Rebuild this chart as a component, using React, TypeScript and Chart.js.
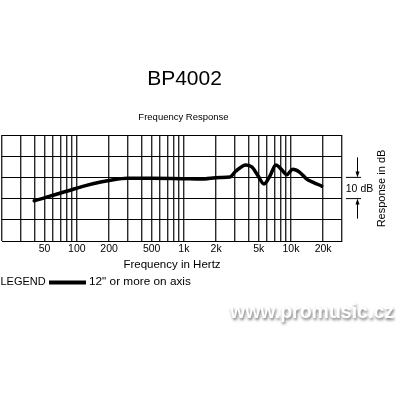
import React, { useEffect, useRef } from "react";
import { Chart, registerables } from "chart.js";

Chart.register(...registerables);

// ---- data ----
const FREQS = [40, 49, 57, 82, 116, 167, 207, 297, 486, 986, 1420, 2180, 2700, 3050, 3800, 4330, 4920, 5600, 6360, 7230, 8220, 9150, 10400, 12100, 14060, 16000, 19400];
const RESPONSE_DB = [19.0, 20.2, 21.3, 23.6, 25.9, 27.8, 28.7, 29.6, 29.6, 29.4, 29.2, 30.0, 30.2, 32.9, 35.9, 34.9, 30.8, 26.9, 30.6, 35.9, 33.6, 31.3, 33.8, 32.4, 29.2, 27.8, 25.9];
const GRID_FREQS = [20, 30, 40, 50, 60, 70, 80, 90, 100, 200, 300, 400, 500, 600, 700, 800, 900, 1000, 2000, 3000, 4000, 5000, 6000, 7000, 8000, 9000, 10000, 20000, 30000];
const LABEL_FREQS = [50, 100, 200, 500, 1000, 2000, 5000, 10000, 20000];
const LABEL_TEXTS = ["50", "100", "200", "500", "1k", "2k", "5k", "10k", "20k"];
const Y_MIN = 0;
const Y_MAX = 50;
const Y_STEP = 10;
const MARK_LOW = 20;
const MARK_HIGH = 30;

const FONT = "'Liberation Sans', Arial, Helvetica, sans-serif";

const extrasPlugin = {
  id: "extras",
  afterDraw(chart: any) {
    const ctx = chart.ctx;
    const ys = chart.scales.y;
    ctx.save();
    ctx.fillStyle = "#000";
    ctx.textBaseline = "middle";
    ctx.textAlign = "center";
    ctx.font = `21px ${FONT}`;
    ctx.fillText("BP4002", 184.5, 79);
    ctx.font = `9.5px ${FONT}`;
    ctx.fillText("Frequency Response", 183.5, 117);

    // Right axis title
    ctx.save();
    ctx.translate(381.5, 188.5);
    ctx.rotate(-Math.PI / 2);
    ctx.font = `11px ${FONT}`;
    ctx.fillText("Response in dB", 0, 0);
    ctx.restore();

    // 10 dB marker
    const yHi = ys.getPixelForValue(MARK_HIGH);
    const yLo = ys.getPixelForValue(MARK_LOW);
    ctx.strokeStyle = "#000";
    ctx.lineWidth = 1;
    ctx.beginPath();
    ctx.moveTo(346, yHi); ctx.lineTo(361, yHi);
    ctx.moveTo(346, yLo); ctx.lineTo(361, yLo);
    ctx.moveTo(357.5, yHi - 20); ctx.lineTo(357.5, yHi - 3);
    ctx.moveTo(357.5, yLo + 20); ctx.lineTo(357.5, yLo + 3);
    ctx.stroke();
    ctx.beginPath();
    ctx.moveTo(357.5, yHi); ctx.lineTo(355.5, yHi - 6); ctx.lineTo(359.5, yHi - 6); ctx.closePath();
    ctx.moveTo(357.5, yLo); ctx.lineTo(355.5, yLo + 6); ctx.lineTo(359.5, yLo + 6); ctx.closePath();
    ctx.fill();
    ctx.font = `10.5px ${FONT}`;
    ctx.fillText("10 dB", 359.5, (yHi + yLo) / 2 + 1);

    // Legend
    ctx.textAlign = "left";
    ctx.font = `11px ${FONT}`;
    ctx.fillText("LEGEND", 0.5, 282);
    ctx.lineWidth = 4;
    ctx.beginPath();
    ctx.moveTo(49, 282.5); ctx.lineTo(86, 282.5);
    ctx.stroke();
    ctx.font = `11.8px ${FONT}`;
    ctx.fillText("12\" or more on axis", 89, 282);

    // Watermark
    ctx.font = `bold 19.5px ${FONT}`;
    ctx.shadowColor = "rgba(0,0,0,0.55)";
    ctx.shadowBlur = 3;
    ctx.shadowOffsetX = 1;
    ctx.shadowOffsetY = 2;
    ctx.fillStyle = "#fff";
    ctx.fillText("www.promusic.cz", 230, 313);
    ctx.restore();
  },
};

export default function App() {
  const ref = useRef<HTMLCanvasElement>(null);
  useEffect(() => {
    if (!ref.current) return;
    const chart = new Chart(ref.current, {
      type: "line",
      data: {
        datasets: [
          {
            data: FREQS.map((f, i) => ({ x: f, y: RESPONSE_DB[i] })),
            borderColor: "#000",
            borderWidth: 3.5,
            pointRadius: 0,
            tension: 0.4,
            cubicInterpolationMode: "monotone",
            borderCapStyle: "round",
            borderJoinStyle: "round",
            fill: false,
          },
        ],
      },
      plugins: [extrasPlugin],
      options: {
        animation: false,
        responsive: false,
        devicePixelRatio: 1,
        layout: { padding: { left: 1, right: 58, top: 135, bottom: 128.6 } },
        plugins: { legend: { display: false }, tooltip: { enabled: false }, title: { display: false } },
        scales: {
          x: {
            type: "logarithmic",
            position: "bottom",
            min: 20,
            max: 30000,
            afterBuildTicks: (scale: any) => {
              scale.ticks = GRID_FREQS.map((v) => ({ value: v }));
            },
            ticks: {
              autoSkip: false,
              maxRotation: 0,
              minRotation: 0,
              padding: 2,
              color: "#000",
              font: { family: FONT, size: 10.5 },
              callback: (v: any) => {
                const idx = LABEL_FREQS.indexOf(Number(v));
                return idx >= 0 ? LABEL_TEXTS[idx] : "";
              },
            },
            grid: { color: "#2a2a2a", lineWidth: 1.4, drawTicks: false },
            border: { display: true, color: "#000", width: 1 },
            title: {
              display: true,
              text: "Frequency in Hertz",
              color: "#000",
              font: { family: FONT, size: 11.5 },
              padding: { top: 0, bottom: 0 },
            },
          },
          y: {
            min: Y_MIN,
            max: Y_MAX,
            ticks: { display: false, stepSize: Y_STEP },
            grid: { color: "#000", lineWidth: 1, drawTicks: false },
            border: { display: false },
          },
        },
      },
    } as any);
    return () => chart.destroy();
  }, []);
  return (
    <div style={{ position: "fixed", left: 0, top: 0, width: 400, height: 400, background: "#fff" }}>
      <canvas ref={ref} width={400} height={400} />
    </div>
  );
}
